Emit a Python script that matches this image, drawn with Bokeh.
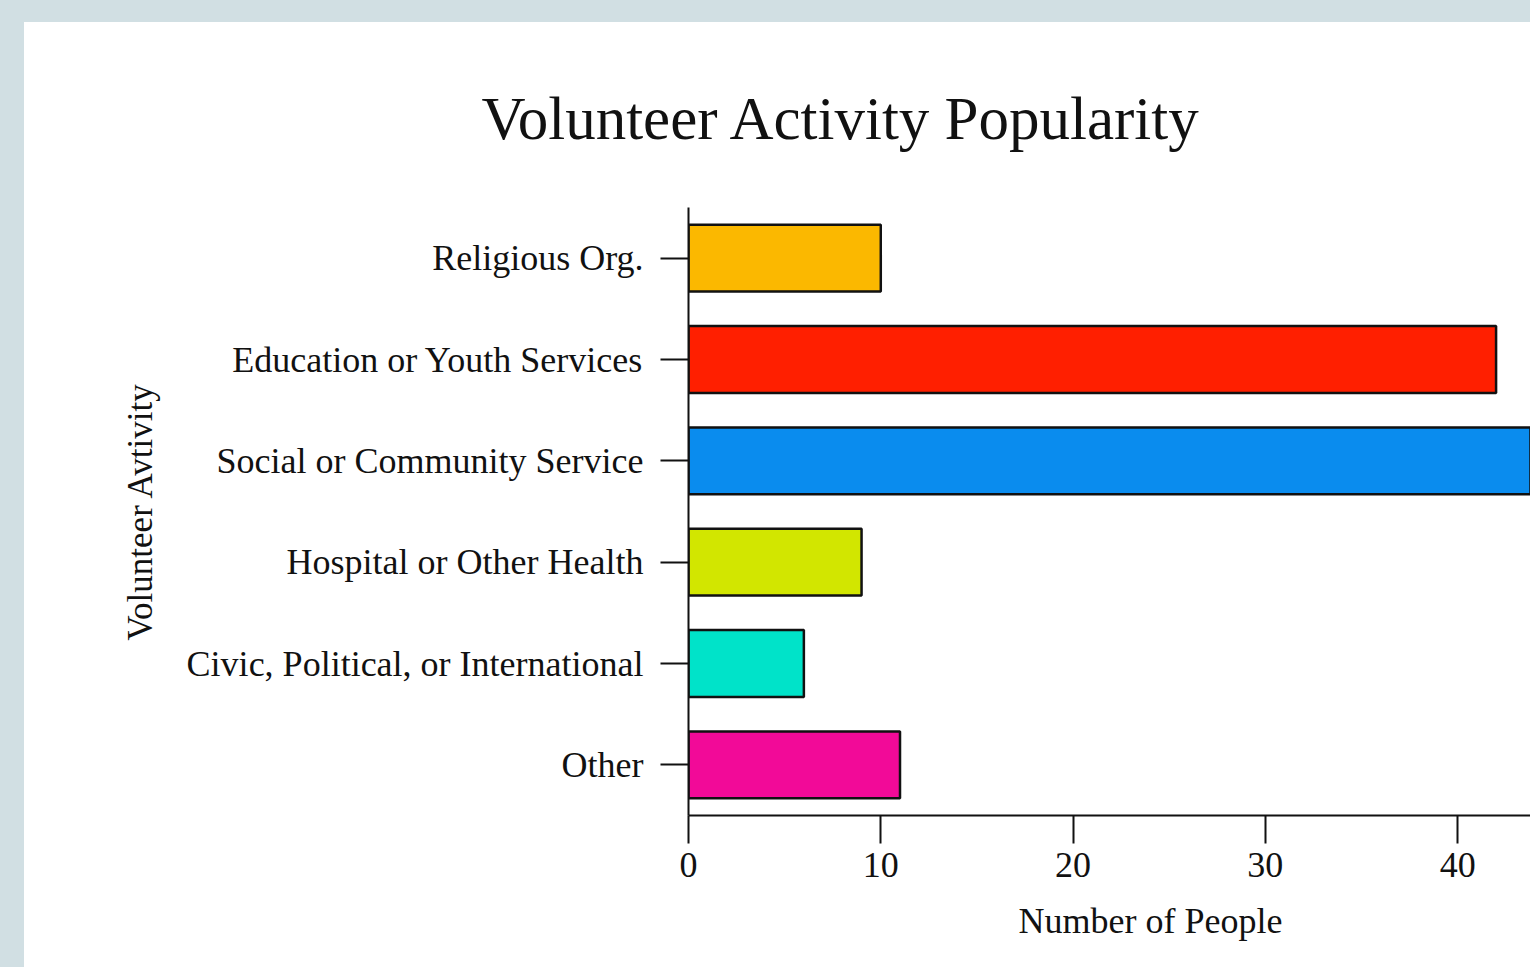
from bokeh.plotting import figure
from bokeh.models import ColumnDataSource, FactorRange, Range1d, FixedTicker, Title, Div
from bokeh.layouts import column, row
from bokeh.embed import file_html
from bokeh.resources import INLINE

categories = ["Religious Org.", "Education or Youth Services", "Social or Community Service",
              "Hospital or Other Health", "Civic, Political, or International", "Other"]
counts = [10, 42, 48, 9, 6, 11]
colors = ["#fbb800", "#ff1f00", "#0a8cee", "#d2e600", "#00e3c9", "#f20a98"]
x_ticks = [0, 10, 20, 30, 40]
title_text = "Volunteer Activity Popularity"
x_label = "Number of People"
y_label = "Volunteer Avtivity"

FONT = "Liberation Serif"
BG = "#d1dfe3"

src = ColumnDataSource(dict(cat=categories, val=counts, color=colors))

p = figure(width=1506, height=945, output_backend="svg", toolbar_location=None,
           y_range=FactorRange(factors=list(reversed(categories))),
           x_range=Range1d(0, 43.79),
           min_border_left=664, min_border_right=0, min_border_top=185, min_border_bottom=152)
p.hbar(y="cat", left=0, right="val", height=0.66, fill_color="color",
       line_color="#111111", line_width=2.5, source=src)

p.xgrid.visible = False
p.ygrid.visible = False
p.outline_line_color = None
p.background_fill_color = "white"
p.border_fill_color = "white"

for ax in (p.xaxis[0], p.yaxis[0]):
    ax.axis_line_width = 2
    ax.axis_line_color = "#111111"
    ax.major_tick_line_width = 2
    ax.major_tick_line_color = "#111111"
    ax.major_tick_out = 28
    ax.major_tick_in = 0
    ax.minor_tick_line_color = None
    ax.major_label_text_font = FONT
    ax.major_label_text_font_size = "36px"
    ax.major_label_text_color = "#111111"

p.xaxis.ticker = FixedTicker(ticks=x_ticks)
p.xaxis.major_label_standoff = 9
p.yaxis.major_label_standoff = 17

p.yaxis.axis_label = y_label
p.yaxis.axis_label_text_font = FONT
p.yaxis.axis_label_text_font_size = "35px"
p.yaxis.axis_label_text_font_style = "normal"
p.yaxis.axis_label_text_color = "#111111"
p.yaxis.axis_label_standoff = 24

p.add_layout(Title(text=title_text, align="left", offset=-207, standoff=112,
                   text_font=FONT, text_font_size="61px", text_color="#111111",
                   text_font_style="normal"), "above")
p.add_layout(Title(text=x_label, align="left", offset=330, standoff=38,
                   text_font=FONT, text_font_size="36px", text_color="#111111",
                   text_font_style="normal"), "below")

top_strip = Div(width=1530, height=22, margin=0, styles={"background-color": BG})
left_strip = Div(width=24, height=945, margin=0, styles={"background-color": BG})
layout = column(top_strip, row(left_strip, p, spacing=0), spacing=0)

open("out.html", "w").write(file_html(layout, INLINE))
